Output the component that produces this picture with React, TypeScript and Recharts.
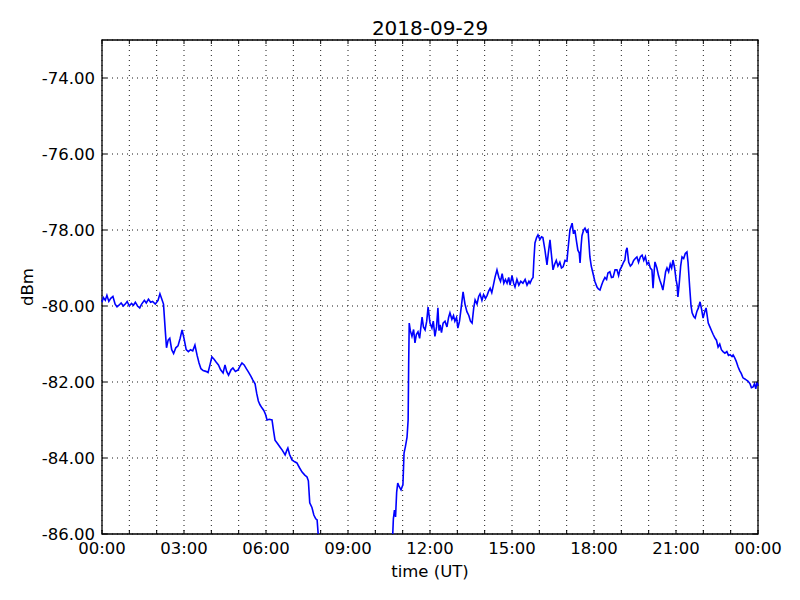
import { LineChart, Line, XAxis, YAxis, CartesianGrid, ReferenceArea, Label } from 'recharts';

const chartTitle = '2018-09-29';

// time of day in hours (UT)
const hours = [
  0.0, 0.05, 0.12, 0.18, 0.25, 0.32, 0.4, 0.48, 0.55, 0.62, 0.7, 0.78, 0.85, 0.92, 1.0, 1.08, 1.15, 1.22, 1.3, 1.38,
  1.45, 1.55, 1.62, 1.7, 1.78, 1.85, 1.95, 2.05, 2.12, 2.18, 2.25, 2.32, 2.36, 2.42, 2.48, 2.55, 2.62, 2.7, 2.78, 2.86,
  2.93, 3.0, 3.08, 3.16, 3.24, 3.32, 3.4, 3.48, 3.55, 3.62, 3.7, 3.8, 3.88, 3.95, 4.02, 4.1, 4.18, 4.26, 4.34, 4.43,
  4.5, 4.56, 4.63, 4.72, 4.79, 4.88, 4.98, 5.05, 5.12, 5.2, 5.28, 5.36, 5.45, 5.52, 5.6, 5.66, 5.72, 5.78, 5.85, 5.92,
  5.98, 6.04, 6.12, 6.22, 6.28, 6.33, 6.42, 6.51, 6.6, 6.7, 6.76, 6.8, 6.86, 6.95, 7.05, 7.13, 7.22, 7.32, 7.42, 7.5,
  7.55, 7.6, 7.68, 7.75, 7.82, 7.87, 7.92, 8.0, 8.4, 8.9, 9.4, 9.9, 10.4, 10.62, 10.66, 10.7, 10.74, 10.78, 10.82, 10.87,
  10.94, 11.01, 11.05, 11.1, 11.16, 11.2, 11.22, 11.24, 11.28, 11.34, 11.4, 11.45, 11.5, 11.56, 11.62, 11.71, 11.76, 11.82, 11.88, 11.93,
  12.0, 12.07, 12.12, 12.18, 12.24, 12.29, 12.33, 12.37, 12.42, 12.48, 12.55, 12.62, 12.68, 12.73, 12.8, 12.86, 12.91, 12.97, 13.02, 13.08,
  13.14, 13.21, 13.28, 13.35, 13.42, 13.48, 13.54, 13.6, 13.65, 13.72, 13.78, 13.83, 13.9, 13.96, 14.03, 14.09, 14.15, 14.2, 14.26, 14.32,
  14.38, 14.45, 14.52, 14.58, 14.64, 14.7, 14.76, 14.82, 14.88, 14.93, 15.0, 15.06, 15.11, 15.18, 15.25, 15.32, 15.4, 15.48, 15.55, 15.62,
  15.66, 15.72, 15.77, 15.8, 15.84, 15.9, 15.95, 16.02, 16.08, 16.13, 16.2, 16.28, 16.33, 16.39, 16.45, 16.5, 16.56, 16.62, 16.68, 16.75,
  16.81, 16.87, 16.94, 17.01, 17.05, 17.12, 17.2, 17.25, 17.3, 17.36, 17.41, 17.46, 17.49, 17.53, 17.56, 17.62, 17.67, 17.73, 17.78, 17.82,
  17.85, 17.9, 17.96, 18.03, 18.11, 18.16, 18.22, 18.28, 18.33, 18.4, 18.46, 18.51, 18.58, 18.64, 18.7, 18.77, 18.84, 18.9, 18.95, 19.02,
  19.08, 19.13, 19.17, 19.21, 19.27, 19.33, 19.39, 19.45, 19.51, 19.57, 19.63, 19.7, 19.76, 19.82, 19.88, 19.94, 20.0, 20.06, 20.12, 20.16,
  20.2, 20.23, 20.3, 20.36, 20.41, 20.47, 20.52, 20.58, 20.62, 20.67, 20.73, 20.79, 20.84, 20.89, 20.95, 21.0, 21.04, 21.07, 21.12, 21.17,
  21.22, 21.28, 21.34, 21.4, 21.44, 21.5, 21.55, 21.59, 21.65, 21.7, 21.76, 21.82, 21.88, 21.94, 21.99, 22.05, 22.1, 22.13, 22.18, 22.24,
  22.3, 22.36, 22.43, 22.48, 22.54, 22.6, 22.66, 22.72, 22.79, 22.86, 22.92, 22.98, 23.05, 23.09, 23.14, 23.2, 23.27, 23.33, 23.39, 23.45,
  23.52, 23.58, 23.64, 23.71, 23.76, 23.82, 23.87, 23.92, 23.96, 24.0,
];

// received level, dBm
const dbm = [
  -79.9, -79.78, -79.85, -79.72, -79.88, -79.8, -79.75, -79.95, -80.02, -79.98, -79.92, -80.0, -79.95, -79.88, -80.0, -79.93, -79.98, -79.9, -80.0, -80.05,
  -79.95, -79.85, -79.92, -79.82, -79.9, -79.88, -79.95, -79.85, -79.68, -79.8, -79.95, -80.7, -81.1, -80.9, -80.85, -81.15, -81.25, -81.1, -81.05, -80.85,
  -80.63, -80.85, -81.15, -81.2, -81.15, -81.18, -81.03, -81.3, -81.5, -81.65, -81.7, -81.72, -81.75, -81.55, -81.34, -81.4, -81.48, -81.55, -81.68, -81.76,
  -81.55, -81.72, -81.82, -81.68, -81.63, -81.72, -81.68, -81.58, -81.5, -81.55, -81.65, -81.74, -81.85, -81.95, -82.05, -82.3, -82.5, -82.6, -82.68, -82.75,
  -82.85, -83.0, -82.98, -83.0, -83.3, -83.53, -83.62, -83.71, -83.8, -83.92, -83.8, -83.74, -83.9, -84.05, -84.1, -84.13, -84.25, -84.37, -84.45, -84.5,
  -84.6, -85.18, -85.3, -85.5, -85.6, -85.63, -86.1, -86.6, -87.2, -87.8, -88.0, -87.6, -87.0, -86.3, -85.6, -85.37, -85.55, -84.9, -84.66, -84.75,
  -84.84, -84.7, -83.87, -83.7, -83.45, -83.0, -81.5, -80.45, -80.65, -80.8, -80.62, -80.97, -80.75, -80.68, -80.85, -80.29, -80.55, -80.63, -80.4, -80.03,
  -80.45, -80.58, -80.4, -80.8, -80.55, -80.05, -80.65, -80.5, -80.7, -80.45, -80.4, -80.55, -80.3, -80.18, -80.35, -80.25, -80.4, -80.3, -80.58, -80.4,
  -80.05, -79.63, -79.95, -80.15, -80.25, -80.4, -80.45, -80.05, -79.84, -79.95, -79.75, -79.68, -79.85, -79.7, -79.8, -79.72, -79.6, -79.53, -79.65, -79.45,
  -79.24, -79.05, -79.25, -79.35, -79.15, -79.4, -79.3, -79.4, -79.25, -79.45, -79.2, -79.4, -79.5, -79.3, -79.45, -79.35, -79.4, -79.3, -79.45, -79.35,
  -79.4, -79.3, -79.25, -78.8, -78.34, -78.2, -78.13, -78.25, -78.18, -78.2, -78.5, -78.92, -78.6, -78.26, -78.7, -79.05, -78.9, -78.8, -78.95, -78.85,
  -79.0, -78.97, -78.8, -78.82, -78.5, -78.0, -77.82, -78.1, -78.0, -78.3, -78.53, -78.6, -78.87, -78.4, -78.15, -78.0, -77.95, -78.05, -78.0, -78.4,
  -78.71, -78.95, -79.13, -79.35, -79.5, -79.55, -79.58, -79.45, -79.35, -79.25, -79.3, -79.13, -79.1, -79.25, -79.24, -79.05, -79.05, -79.2, -79.05, -78.95,
  -78.85, -78.79, -78.55, -78.47, -78.85, -78.95, -78.9, -78.8, -78.75, -78.71, -78.85, -78.7, -78.66, -78.8, -78.7, -78.9, -78.85, -79.0, -79.05, -79.53,
  -79.1, -78.84, -79.0, -79.2, -79.32, -79.45, -79.58, -79.3, -79.1, -79.0, -79.1, -78.9, -79.0, -78.79, -79.0, -79.3, -79.45, -79.76, -79.4, -78.95,
  -78.71, -78.75, -78.62, -78.58, -78.85, -79.5, -80.0, -80.18, -80.28, -80.32, -80.15, -80.05, -79.89, -80.1, -80.32, -80.15, -80.05, -80.2, -80.45, -80.55,
  -80.65, -80.75, -80.85, -80.9, -81.08, -81.0, -81.15, -81.2, -81.24, -81.2, -81.3, -81.28, -81.33, -81.29, -81.35, -81.45, -81.6, -81.7, -81.78, -81.89,
  -81.92, -81.95, -81.98, -82.05, -82.15, -82.13, -82.05, -82.18, -82.0, -82.1,
];

const hourTicks = [0, 1, 2, 3, 4, 5, 6, 7, 8, 9, 10, 11, 12, 13, 14, 15, 16, 17, 18, 19, 20, 21, 22, 23, 24];
const dbmTicks = [-86, -84, -82, -80, -78, -76, -74];

const data = hours.map((h, i) => ({ h, v: dbm[i] }));

const FONT = '"DejaVu Sans", sans-serif';
const PLOT_TOP = 40;
const PLOT_RIGHT = 758;

const fmtHour = (h: number) => `${String(h % 24).padStart(2, '0')}:00`;

const TimeTick = ({ x, y, payload }: any) => {
  const h = payload.value;
  return (
    <g>
      <line x1={x} x2={x} y1={y} y2={y - 4} stroke="#000" />
      <line x1={x} x2={x} y1={PLOT_TOP} y2={PLOT_TOP + 4} stroke="#000" />
      {h % 3 === 0 && (
        <text x={x} y={y + 8} dy="0.71em" textAnchor="middle" fontSize={16.5} fontFamily={FONT} fill="#000">
          {fmtHour(h)}
        </text>
      )}
    </g>
  );
};

const DbmTick = ({ x, y, payload }: any) => (
  <g>
    <line x1={x} x2={x + 5} y1={y} y2={y} stroke="#000" />
    <line x1={PLOT_RIGHT} x2={PLOT_RIGHT - 5} y1={y} y2={y} stroke="#000" />
    <text x={x - 7} y={y} dy="0.34em" textAnchor="end" fontSize={16.5} fontFamily={FONT} fill="#000">
      {payload.value.toFixed(2)}
    </text>
  </g>
);

const DbmLabel = ({ viewBox }: any) => {
  const cx = viewBox.x + 27;
  const cy = viewBox.y + viewBox.height / 2;
  return (
    <text x={cx} y={cy} transform={`rotate(-90 ${cx} ${cy})`} textAnchor="middle" dy="0.35em" fontSize={16.5} fontFamily={FONT} fill="#000">
      dBm
    </text>
  );
};

export default function App() {
  return (
    <div style={{ position: 'absolute', left: 0, top: 0, width: 800, height: 600, background: '#fff', fontFamily: FONT }}>
      <div style={{ position: 'absolute', left: 102, width: 656, top: 18, lineHeight: '20px', fontSize: 20, textAlign: 'center', color: '#000' }}>
        {chartTitle}
      </div>
      <LineChart width={800} height={600} data={data} margin={{ top: 40, right: 42, bottom: 0, left: 0 }}>
        <CartesianGrid stroke="#000" strokeWidth={0.9} strokeDasharray="1 4" />
        <XAxis
          dataKey="h"
          type="number"
          domain={[0, 24]}
          ticks={hourTicks}
          interval={0}
          height={66}
          tickSize={0}
          tickMargin={0}
          axisLine={false}
          tick={<TimeTick />}
        >
          <Label value="time (UT)" position="insideBottom" offset={23} fontSize={16.5} fontFamily={FONT} fill="#000" />
        </XAxis>
        <YAxis
          type="number"
          domain={[-86, -73]}
          ticks={dbmTicks}
          interval={0}
          allowDataOverflow
          width={102}
          tickSize={0}
          tickMargin={0}
          axisLine={false}
          tick={<DbmTick />}
        >
          <Label content={<DbmLabel />} />
        </YAxis>
        <ReferenceArea x1={0} x2={24} y1={-86} y2={-73} fill="none" stroke="#000" strokeWidth={1.3} />
        <Line type="linear" dataKey="v" stroke="#0000ff" strokeWidth={1.6} dot={false} isAnimationActive={false} />
      </LineChart>
    </div>
  );
}
